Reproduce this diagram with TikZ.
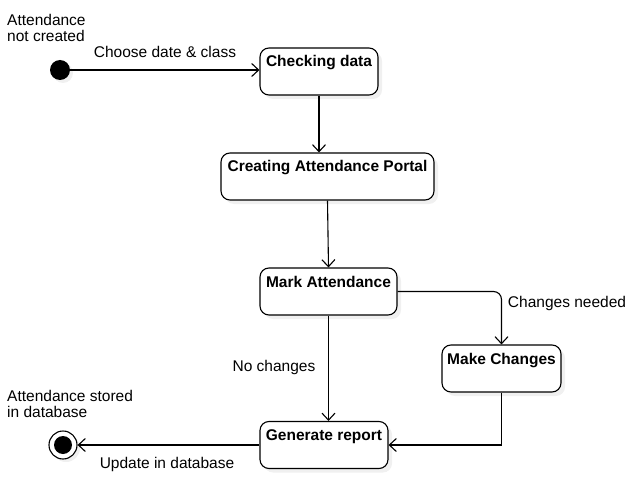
\documentclass[tikz,border=0pt]{standalone}
\usepackage{fontspec}
\setmainfont{Liberation Sans}
\usetikzlibrary{arrows.meta,shadows}

\begin{document}
\begin{tikzpicture}[x=1pt,y=-1pt]
\tikzset{state/.style = {shape=rectangle,draw,rounded corners=9pt,line width=1.1pt,fill=white,
  drop shadow={opacity=0.12,shadow xshift=4pt,shadow yshift=-4pt},
  inner sep=4pt,text height=15pt,text depth=24pt,font=\fontsize{15.5}{17}\selectfont\bfseries}}
\tikzset{edge/.style = {-{Straight Barb[length=7pt,width=13pt]},line width=1.1pt}}
\tikzset{lbl/.style = {font=\fontsize{15.5}{16}\selectfont,inner sep=0pt,align=left}}
\useasboundingbox (0,0) rectangle (634,489);
% states
\node[circle,fill=black,minimum size=20pt,inner sep=0pt,
  drop shadow={opacity=0.12,shadow xshift=3pt,shadow yshift=-3pt}] (start) at (60,70) {};
\node[state,minimum width=118pt] (check) at (319,71.5) {Checking data};
\node[state,minimum width=213pt] (portal) at (327.5,176.5) {Creating Attendance Portal};
\node[state,minimum width=137pt] (mark) at (328.5,291.5) {Mark Attendance};
\node[state,minimum width=119pt] (make) at (501.5,368.5) {Make Changes};
\node[state,minimum width=128pt] (gen) at (324,445) {Generate report};
\node[circle,draw,fill=white,line width=1.1pt,minimum size=28pt,inner sep=0pt,
  drop shadow={opacity=0.12,shadow xshift=3pt,shadow yshift=-3pt}] (end) at (63,445) {};
\fill (end) circle (9pt);

% labels
\node[lbl,anchor=north west] (l1) at (7,14) {Attendance\\not created};
\node[lbl] (l2) at (165,52) {Choose date \& class};
\node[lbl] (l3) at (567,303) {Changes needed};
\node[lbl] (l4) at (274,367) {No changes};
\node[lbl,anchor=north west] (l5) at (7,390) {Attendance stored\\in database};
\node[lbl] (l6) at (167,464) {Update in database};

% transitions
\draw[edge] (start) -- (check.west |- start);
\draw[edge] (check.south) -- (check.south |- portal.north);
\draw[edge] (portal.south) -- (mark.north);
\draw[edge] (mark.south) -- (mark.south |- gen.north);
\draw[edge,rounded corners=8pt] (mark.east) -| (make.north);
\draw[edge] (make.south) |- (gen.east);
\draw[edge] (gen.west) -- (end);

\end{tikzpicture}
\end{document}
